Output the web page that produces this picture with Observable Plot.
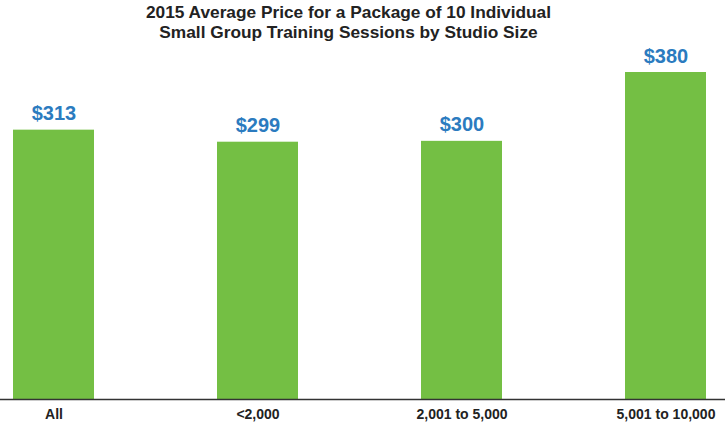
<!DOCTYPE html>
<html>
<head>
<meta charset="utf-8">
<script src="https://cdn.jsdelivr.net/npm/d3@7"></script>
<script src="https://cdn.jsdelivr.net/npm/@observablehq/plot@0.6"></script>
<style>
  html, body { margin: 0; padding: 0; background: #fff; }
  #wrap { position: relative; width: 725px; height: 426px; font-family: "Liberation Sans", Arial, sans-serif; }
  #title { position: absolute; top: 2px; left: 0; width: 697px; text-align: center; font-size: 17.3px; line-height: 20px; font-weight: bold; color: #222; }
  #chart { position: absolute; top: 0; left: 0; }
</style>
</head>
<body>
<div id="wrap">
  <div id="chart"></div>
  <div id="title">2015 Average Price for a Package of 10 Individual<br>Small Group Training Sessions by Studio Size</div>
</div>
<script>
const categories = ["All", "<2,000", "2,001 to 5,000", "5,001 to 10,000"];
const prices = [313, 299, 300, 380];
const priceLabels = ["$313", "$299", "$300", "$380"];

const data = categories.map((c, i) => ({ category: c, price: prices[i], label: priceLabels[i] }));

const chart = Plot.plot({
  width: 725,
  height: 426,
  marginTop: 72,
  marginBottom: 27,
  marginLeft: 13,
  marginRight: 19,
  style: { fontFamily: "'Liberation Sans', Arial, sans-serif", background: "transparent" },
  x: { domain: categories, paddingInner: 0.603, paddingOuter: 0, label: null },
  y: { domain: [0, 380], axis: null },
  marks: [
    Plot.barY(data, { x: "category", y: "price", fill: "#74bf44" }),
    Plot.ruleY([0], { stroke: "#333", strokeWidth: 1.5, insetLeft: -13, insetRight: -19 }),
    Plot.text(data, { x: "category", y: "price", text: "label", dy: -16.4, fill: "#2b7bbf", fontSize: 20, fontWeight: "bold" }),
    Plot.axisX({ tickSize: 0, tickPadding: 10, fontSize: 14, fontWeight: "bold", fill: "#222", label: null })
  ]
});
document.getElementById("chart").appendChild(chart);
</script>
</body>
</html>
